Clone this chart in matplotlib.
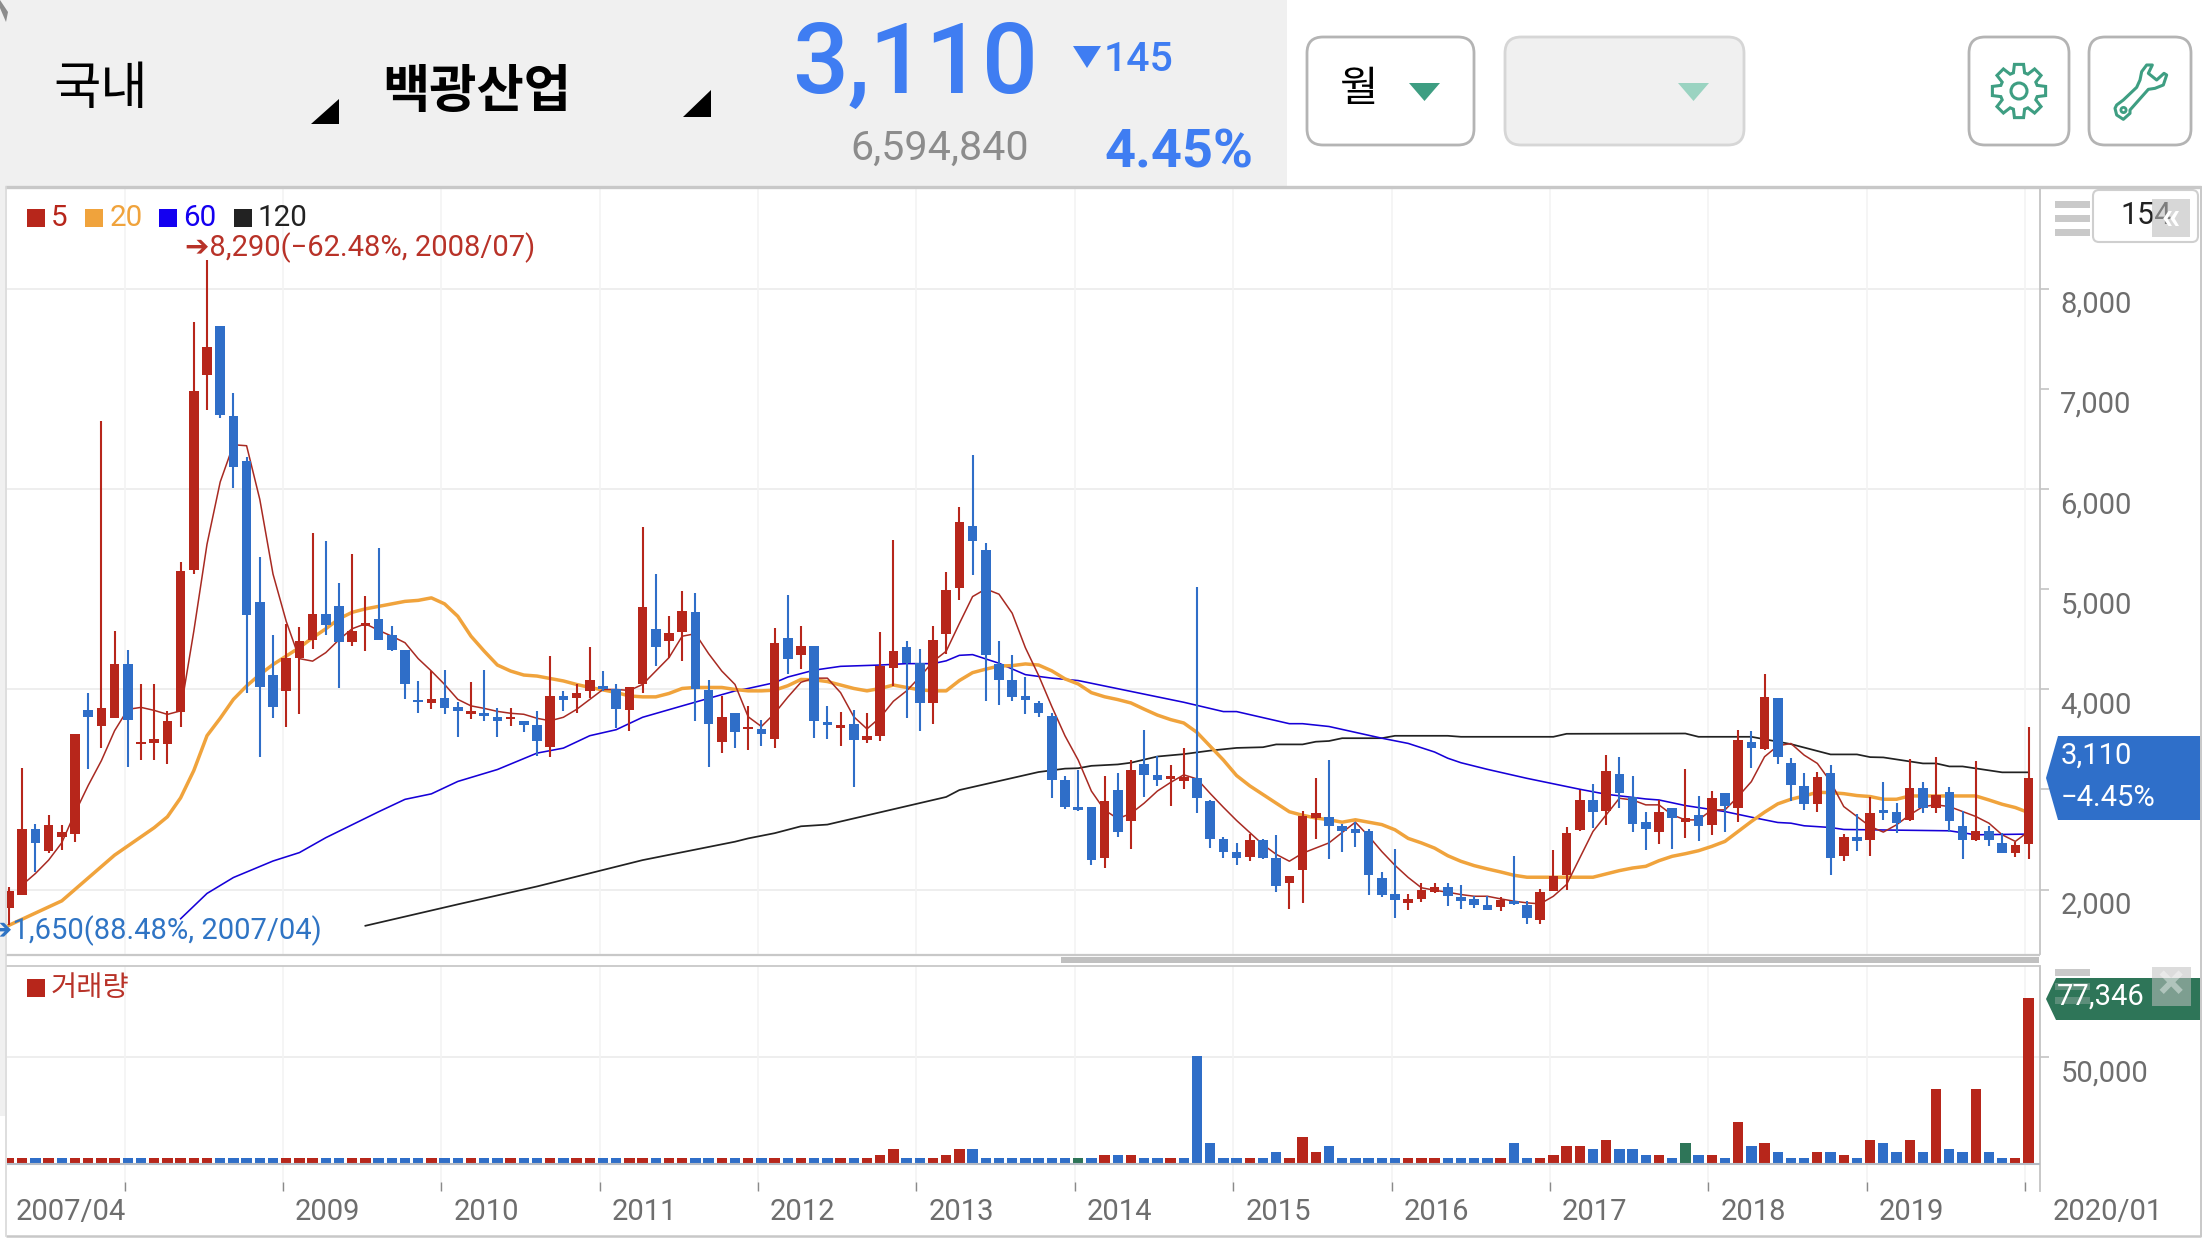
import matplotlib
matplotlib.use("Agg")
import matplotlib.pyplot as plt
from matplotlib.patches import FancyBboxPatch, Polygon, Rectangle, Circle
from matplotlib.transforms import ScaledTranslation
import numpy as np

plt.rcParams['font.family'] = ['Roboto', 'Noto Sans CJK KR', 'DejaVu Sans']

opens = [1812,1947,2603,2384,2528,2553,3795,3636,3711,4253,
3457,3467,3457,3771,5192,7145,7627,6728,6285,4869,
4143,3979,4317,4496,4750,4829,4476,4630,4705,4546,
4392,3890,3860,3910,3820,3750,3761,3721,3701,3686,
3641,3423,3930,3910,3979,4029,3999,3790,4049,4605,
4486,4571,4774,3989,3477,3767,
3605,3605,3501,4509,4344,4437,3674,3612,3653,3491,
3539,4212,4419,4268,3860,4554,5010,5631,5389,4250,
4098,3929,3867,3729,3094,2822,2825,2318,2994,2680,
3256,3146,3105,3084,3115,2880,2501,2377,2328,2494,
2311,2062,2193,2715,2725,2632,2604,2587,2111,1959,
1869,1904,1976,2021,1924,1910,1844,1824,1890,1847,
1698,1983,2143,2590,2895,2789,3154,2929,2677,2574,
2819,2673,2746,2643,2965,2819,3476,3406,3914,3267,
3038,2859,3167,2332,2521,2491,2796,2779,2690,3018,
2819,2975,2637,2491,2587,2464,2361,2454]
closes = [1981,2603,2464,2642,2578,3552,3726,3815,4253,3696,
3477,3502,3686,5182,6981,7423,6738,6226,4740,4019,
3820,4312,4481,4750,4645,4476,4586,4665,4496,4397,
4049,3870,3900,3810,3780,3780,3731,3686,3726,3646,
3482,3935,3890,3959,4089,3999,3800,4019,4819,4427,
4566,4779,3999,3656,3721,3572,
3622,3550,4468,4302,4437,3681,3640,3643,3491,3536,
4233,4385,4261,3860,4495,4989,5672,5486,4340,4098,
3922,3891,3760,3091,2829,2794,2294,2884,2570,3198,
3149,3098,3132,3122,2918,2508,2380,2318,2490,2318,
2035,2131,2735,2766,2639,2580,2566,2145,1948,1897,
1904,2000,2021,1931,1890,1844,1797,1897,1857,1718,
1973,2139,2567,2895,2773,3184,2968,2657,2604,2776,
2713,2713,2637,2915,2839,3496,3416,3924,3320,3041,
2859,3128,2312,2521,2481,2766,2763,2660,3018,2819,
2942,2683,2491,2587,2491,2365,2448,3110]
highs = [2021,3214,2657,2742,2642,3552,3959,6683,4581,4392,
4049,4049,3785,5276,7672,8290,7627,6956,6320,5326,
4541,4655,4620,5565,5485,5063,5351,4929,5411,4630,
4392,4084,4183,4198,3875,4074,4193,3810,3810,3686,
3780,4332,3984,4049,4422,4183,4049,4019,5624,5152,
4730,4978,4963,4094,3934,3761,
3836,3691,4616,4941,4630,4437,3836,3774,3795,3767,
4575,5493,4485,4399,4637,5172,5821,6342,5458,4485,
4347,4123,3885,3760,3139,3191,2825,3132,3167,3294,
3595,3336,3243,3415,5020,2898,2525,2466,2552,2501,
2542,2131,2784,3115,3294,2656,2673,2604,2173,2404,
1959,2069,2069,2069,2043,1933,1933,1923,2332,1890,
2006,2391,2623,2995,3055,3343,3327,3138,2779,2895,
2819,3207,2935,2988,2965,3592,3585,4153,3914,3317,
3167,3177,3244,2557,2756,2922,3078,2869,3307,3078,
3327,3028,2789,3284,2630,2564,2474,3625]
lows = [1650,1947,2180,2369,2394,2478,3204,3413,3711,3229,
3298,3298,3254,3621,5152,6792,6708,6007,3959,3328,
3711,3626,3750,4407,4546,4009,4436,4387,4496,4382,
3905,3761,3800,3751,3522,3701,3686,3522,3636,3572,
3338,3323,3786,3761,3910,3984,3611,3587,3959,4233,
4317,4283,3686,3229,3363,3413,
3398,3436,3415,4157,4202,3512,3502,3439,3029,3460,
3481,4036,3712,3581,3650,4354,4892,5141,3881,3847,
3881,3750,3726,2915,2801,2787,2249,2218,2528,2404,
2925,3036,2835,3001,2766,2414,2318,2249,2283,2304,
1976,1804,1862,2508,2304,2380,2425,1948,1924,1717,
1793,1873,1966,1838,1807,1817,1797,1784,1841,1658,
1658,1983,2000,2580,2613,2640,2813,2574,2391,2454,
2405,2514,2481,2540,2574,2673,3211,3393,3250,2885,
2793,2779,2146,2282,2381,2332,2690,2564,2680,2763,
2769,2574,2302,2481,2431,2365,2322,2302]

volumes = [2800,2800,2800,2800,2800,2800,2800,2800,2800,2800,
2800,2800,2800,2800,2800,2800,2800,2800,2800,2800,
2800,2800,2800,2800,2800,2800,2800,2800,2800,2800,
2800,2800,2800,2800,2800,2800,2800,2800,2800,2800,
2800,2800,2800,2800,2800,2800,2800,2800,2800,2800,
2800,2800,2800,2800,2800,2800,2800,2800,2800,2800,
2800,2800,2800,2800,2800,2800,4200,7000,2800,2800,
2800,4200,7000,7000,2800,2800,2800,2800,2800,2800,
2800,2800,2800,4200,4200,4200,2800,2800,2800,2800,
50300,9800,2800,2800,2800,2800,5600,2800,12600,5600,
8400,2800,2800,2800,2800,2800,2800,2800,2800,2800,
2800,2800,2800,2800,9800,2800,2800,4200,8400,8400,
7000,11200,7000,7000,4200,4200,2800,9800,4200,4200,
2800,19600,8400,9800,5600,2800,2800,5600,5600,4200,
2800,11200,9800,5600,11200,5600,35000,7000,5600,35000,
5600,2800,2800,77346]
volume_kinds = ("rrbrbrrrrb" "brrrrrbbbb" "brrrbbrrbb" "bbrbbrbbrb" "brbrrbbrrb"
                "rrbbrbrbrb" "rbbrbrrrbb" "rrrbbbbbbb" "bgbrbrbbrb" "bbbbrbbrrr"
                "bbbbbbrrrb" "bbbrbbrrrr" "brbbbrbgbr" "brbrbbbrbr" "brbbrbrbbr" "bbrr")

ma5_idx = list(range(1, 154))
ma5 = [2046,2160,2294,2468,2767,3040,3288,3587,3800,3820,
3790,3750,3785,4581,5450,6072,6444,6434,5898,5152,
4680,4307,4282,4367,4496,4606,4655,4590,4531,4466,
4307,4183,4049,3900,3835,3810,3780,3761,3751,3711,
3686,3721,3800,3900,3999,3999,3989,4049,4183,4317,
4531,4556,4357,4183,4049,
3726,3629,3760,3922,4071,4112,4112,3967,3726,3605,3719,3881,3985,4123,4278,4381,
4658,4927,5003,4951,4761,4416,4140,3829,3536,3294,2984,2794,2708,2760,2863,2984,
3070,3146,3105,2960,2822,2690,2570,2449,2352,2283,2363,2414,2466,2570,2673,2535,
2380,2242,2121,2018,1993,1973,
1950,1933,1933,1907,1884,1867,1857,1933,2050,2315,2580,2746,2912,2895,2846,2846,
2746,2696,2696,2796,2796,2929,3078,3327,3436,3459,3343,3260,3078,2829,2730,2630,
2574,2647,2746,2829,2846,2829,2779,2730,2663,2547,2481,2580]

ma20_idx = [0, 4, 8, 11] + list(range(12, 154))
ma20 = [1643,1887,2344,2618,
2727,2916,3189,3537,3711,3900,4034,4148,4248,4332,4417,4516,4605,4705,4770,4804,
4829,4854,4879,4889,4914,4854,4730,4531,4382,4243,4183,4143,4133,4108,4084,4049,
4019,3994,3969,3934,3925,3925,3959,4009,4019,4019,4019,3999,
3985,3985,3992,4036,4099,4095,4078,4043,4009,3985,4009,4043,4019,3995,3985,3985,
4088,4167,4202,4233,4237,4254,4243,4185,4105,4054,3967,3926,3898,3864,3802,3743,
3698,3664,3570,3432,3294,3139,3036,2949,2863,2777,2742,2715,2697,2673,2697,2673,
2649,2597,2511,2466,2414,2338,
2282,2239,2206,2176,2143,2123,2123,2123,2123,2123,2123,2156,2189,2215,2232,2288,
2332,2358,2388,2431,2481,2580,2680,2773,2856,2902,2935,2972,2968,2958,2939,2929,
2902,2902,2935,2935,2935,2935,2935,2935,2895,2852,2819,2769]

ma60_idx = [13,15,17,20,22,24,28,30,32,34,37,40,42,44,46,48,51,53,55,
56,58,59,61,63,66,68,70,71,72,73,75,77,79,81,89,92,93,97,98,100,104,106,108,109,
110,112,115,119,121,124,125,127,130,132,134,135,136,138,139,147,149,153]
ma60 = [1708,1961,2120,2285,2369,2518,2777,2901,2956,3080,3199,3363,3413,3537,3597,3721,3835,3910,3984,
4009,4067,4123,4192,4230,4243,4257,4257,4285,4340,4347,4261,4147,4112,4088,3871,3778,3778,3657,3657,3629,3512,3460,3374,3312,
3267,3201,3111,3002,2952,2905,2895,2839,2779,2723,2670,2663,2637,2620,2600,2587,2547,2554]

ma120_idx = [27,34,40,48,55,56,58,60,62,71,72,78,80,81,82,84,85,87,89,91,93,95,96,98,99,100,101,104,105,109,
110,117,118,127,128,132,135,138,140,141,142,145,146,147,148,151,153]
ma120 = [1638,1852,2031,2294,2478,2511,2563,2632,2649,2925,2994,3174,3208,3212,3236,3250,3267,3329,3353,3388,3415,3422,3450,3450,3477,3484,3512,3512,3536,3536,
3526,3526,3556,3559,3526,3526,3453,3350,3350,3323,3320,3260,3260,3230,3230,3171,3171]

price_ticks = [2000, 3000, 4000, 5000, 6000, 7000, 8000]
price_grid = [2000, 4000, 6000, 8000]
year_idx = [9, 21, 33, 45, 57, 69, 81, 93, 105, 117, 129, 141, 153]
year_labels = ['2007/04', '2009', '2010', '2011', '2012', '2013', '2014',
               '2015', '2016', '2017', '2018', '2019', '2020/01']
label_shift_px = [1, 12, 12, 12, 12, 12, 12, 12, 12, 12, 12, 12, 27]
label_align = ['right'] + ['left'] * 12

RED, BLUE, GREEN = '#B7261B', '#2F6EC8', '#2E7558'
ORANGE, MBLUE, BLACK = '#F0A33C', '#1600D8', '#222222'
GRID, VGRID, AXISC, TEXTC = '#EDEDED', '#F3F3F3', '#C4C4C4', '#6E6E6E'
RED_TXT = '#B83228'
TEAL = '#3E9E82'
W, H = 2208, 1242
FS = 21

fig = plt.figure(figsize=(W/100, H/100), dpi=100, facecolor='white')


def axes_px(l, t, r, b, **kw):
    return fig.add_axes([l/W, 1-b/H, (r-l)/W, (b-t)/H], **kw)


L, R = 6.5, 2039.5
XLIM = (-0.19, 153.83)
x = np.arange(len(opens))
o, c, hi, lo = map(np.array, (opens, closes, highs, lows))
up = c >= o

# ---------- price panel
ax = axes_px(L, 188, R, 954)
ax.set_xlim(*XLIM)
ax.set_ylim(1356, 9009)
ax.plot(ma120_idx, ma120, color=BLACK, lw=1.25, zorder=2)
ax.plot(ma60_idx, ma60, color=MBLUE, lw=1.15, zorder=2.1)
ax.plot(ma20_idx, ma20, color=ORANGE, lw=2.5, zorder=2.2)
ax.plot(ma5_idx, ma5, color='#A82A22', lw=1.1, zorder=2.3)
cols = np.where(up, RED, BLUE)
ax.vlines(x, lo, hi, colors=cols, lw=1.5, zorder=3)
ax.bar(x, np.maximum(np.abs(c-o), 20), bottom=np.minimum(o, c), width=0.72, color=cols, zorder=3.1)
for v in price_grid:
    ax.axhline(v, color=GRID, lw=1.3, zorder=0)
ax.set_yticks(price_ticks)
ax.set_yticklabels([f'{v:,}' for v in price_ticks])
ax.yaxis.tick_right()
ax.tick_params(axis='y', length=6.5, width=1.2, color=AXISC, labelcolor=TEXTC, labelsize=FS, pad=8.5)
for lab in ax.get_yticklabels():
    lab.set_transform(lab.get_transform() + ScaledTranslation(0, -13/100, fig.dpi_scale_trans))
ax.set_xticks([i-0.25 for i in year_idx])
ax.set_xticklabels([])
ax.tick_params(axis='x', length=0)
ax.grid(True, axis='x', color=VGRID, lw=1.2, zorder=0)
ax.set_axisbelow(True)
for s in ('top', 'left', 'bottom'):
    ax.spines[s].set_visible(False)
ax.spines['right'].set_color(AXISC)
ax.spines['right'].set_linewidth(1.3)

# ---------- volume panel
vx = axes_px(L, 966, R, 1191)
vx.set_xlim(*XLIM)
vx.set_ylim(-12303, 92154)
kind_col = {'r': RED, 'b': BLUE, 'g': GREEN}
vx.bar(x, volumes, width=0.78, color=[kind_col[k] for k in volume_kinds], zorder=3)
vx.axhline(0, color='#B4BAC4', lw=1.5, zorder=4)
vx.axhline(50000, color=GRID, lw=1.3, zorder=0)
vx.set_yticks([50000])
vx.set_yticklabels(['50,000'])
vx.yaxis.tick_right()
vx.tick_params(axis='y', length=6.5, width=1.2, color=AXISC, labelcolor=TEXTC, labelsize=FS, pad=8.5)
for lab in vx.get_yticklabels():
    lab.set_transform(lab.get_transform() + ScaledTranslation(0, -14/100, fig.dpi_scale_trans))
vx.set_xticks([i-0.25 for i in year_idx])
vx.set_xticklabels(year_labels)
vx.tick_params(axis='x', direction='in', length=6.5, width=1.0, color='#8A8A8A', labelcolor=TEXTC,
                labelsize=FS, pad=5)
for lab, sh, al in zip(vx.get_xticklabels(), label_shift_px, label_align):
    lab.set_ha(al)
    lab.set_transform(lab.get_transform() + ScaledTranslation(sh/100, 0, fig.dpi_scale_trans))
vx.grid(True, axis='x', color=VGRID, lw=1.2, zorder=0)
vx.set_axisbelow(True)
for s in ('top', 'left', 'bottom'):
    vx.spines[s].set_visible(False)
vx.spines['right'].set_color(AXISC)
vx.spines['right'].set_linewidth(1.3)

# ---------- page furniture, in screen pixels
ui = fig.add_axes([0, 0, 1, 1], zorder=10)
ui.set_xlim(0, W)
ui.set_ylim(H, 0)
ui.axis('off')
ui.patch.set_alpha(0)


def rect(x0, y0, x1, y1, **kw):
    ui.add_patch(Rectangle((x0, y0), x1-x0, y1-y0, **kw))


def hline(y, x0, x1, color='#C8C8C8', lw=1.5):
    ui.plot([x0, x1], [y, y], color=color, lw=lw, solid_capstyle='butt')


rect(0, 0, 1287, 186, fc='#F0F0F0', ec='none')
rect(0, 186, 5, 1116, fc='#F0F0F0', ec='none')
ui.add_patch(Polygon([(0, 0), (8, 12), (6, 22), (0, 8)], fc='#8C8C8C', ec='none'))
hline(187, 5, 2201, lw=2.4)
hline(955, 6, 2040, lw=1.6)
hline(966, 6, 2040, lw=1.3)
hline(1236, 6, 2201, lw=1.8)
ui.plot([6, 6], [187, 1236], color='#D8D8D8', lw=1.2)
ui.plot([2200.5, 2200.5], [187, 1236], color='#C8C8C8', lw=1.4)
rect(1061, 957, 2039, 963, fc='#C0C0C0', ec='none')

ui.text(101, 89, '국내', fontsize=37, color='black', ha='center', va='center',
        family='Noto Sans CJK KR', fontweight='medium')
ui.text(477, 92, '백광산업', fontsize=37, color='black', ha='center', va='center',
        family='Noto Sans CJK KR', fontweight='bold')
ui.add_patch(Polygon([(311, 124), (339, 124), (339, 99)], fc='black', ec='none'))
ui.add_patch(Polygon([(683, 117), (711, 117), (711, 90)], fc='black', ec='none'))
NUMB = '#3F7DF2'
ui.text(792, 66, '3,110', fontsize=71, color=NUMB, ha='left', va='center', fontweight='medium')
ui.add_patch(Polygon([(1073, 46), (1101, 46), (1087, 68)], fc=NUMB, ec='none'))
ui.text(1104, 60, '145', fontsize=29.5, color=NUMB, ha='left', va='center', fontweight='medium')
ui.text(850, 148, '6,594,840', fontsize=29.7, color='#8C8C8C', ha='left', va='center')
ui.text(1104, 153, '4.45%', fontsize=39, color=NUMB, ha='left', va='center', fontweight='bold')


def button(x0, x1, fc='white', ec='#B4B4B4'):
    ui.add_patch(FancyBboxPatch((x0+16, 37+16), x1-x0-32, 108-32, boxstyle='round,pad=16',
                                fc=fc, ec=ec, lw=2.0))


button(1307, 1474)
button(1505, 1744, fc='#F0F0F0', ec='#D6D6D6')
button(1969, 2069)
button(2089, 2191)
ui.text(1359, 89, '월', fontsize=30, color='black', ha='center', va='center',
        family='Noto Sans CJK KR', fontweight='medium')
ui.add_patch(Polygon([(1409, 83), (1440, 83), (1424.5, 101)], fc='#3E9E82', ec='none'))
ui.add_patch(Polygon([(1678, 83), (1709, 83), (1693.5, 101)], fc='#9AD3C1', ec='none'))

# gear icon
cx, cy = 2019, 91
ang = np.linspace(0, 2*np.pi, 8, endpoint=False)
pts = []
for a in ang:
    for da, rr in ((-0.30, 19), (-0.17, 27), (0.17, 27), (0.30, 19)):
        pts.append((cx+rr*np.sin(a+da), cy-rr*np.cos(a+da)))
ui.add_patch(Polygon(pts, closed=True, fc='white', ec=TEAL, lw=2.2))
ui.add_patch(Circle((cx, cy), 8, fc='white', ec=TEAL, lw=2.2))

# wrench icon
wrench_zoom = [(470, 225), (490, 210), (530, 172), (540, 150), (545, 125), (560, 105), (577, 105),
               (565, 130), (590, 150), (612, 130), (620, 135), (610, 165), (585, 175), (565, 178),
               (510, 240), (510, 250), (490, 268), (470, 255), (465, 235)]
ui.add_patch(Polygon([(1960+a/3, 30+b/3) for a, b in wrench_zoom], closed=True, fc='white', ec=TEAL,
                     lw=2.2, joinstyle='round'))
ui.add_patch(Circle((2123.5, 110), 2.6, fc='white', ec=TEAL, lw=2.0))

# legend
ly = 219
for x0, col, x1, txt in ((27, RED, 51, '5'), (85, ORANGE, 110, '20'),
                         (159, '#1400F0', 183, '60'), (234, BLACK, 258, '120')):
    rect(x0, ly-10, x0+18, ly+8, fc=col, ec='none')
    ui.text(x1, ly-1, txt, fontsize=FS+0.3, color=col, ha='left', va='center')

ui.text(185, 248, '➔8,290(−62.48%, 2008/07)', fontsize=FS, color=RED_TXT, ha='left', va='center')
ui.text(-12, 931, '➔1,650(88.48%, 2007/04)', fontsize=FS, color='#2F74C4', ha='left', va='center',
        clip_on=False)

rect(27, 979, 45, 997, fc=RED, ec='none')
ui.text(51, 988, '거래량', fontsize=20.5, color=RED_TXT, ha='left', va='center', family='Noto Sans CJK KR')

# hamburger and count box
for y0 in (201, 215, 229):
    rect(2055, y0, 2090, y0+7, fc='#C9C9C9', ec='none')
ui.add_patch(FancyBboxPatch((2099, 196), 93, 40, boxstyle='round,pad=6', fc='white', ec='#CFCFCF', lw=1.5))
ui.text(2146, 216, '154', fontsize=22, color='#222222', ha='center', va='center')
rect(2152, 199, 2190, 237, fc='#BDBDBD', ec='none', alpha=0.6, zorder=5)
ui.text(2171, 217, '«', fontsize=27, color='white', ha='center', va='center', fontweight='bold', zorder=6)

# price tag
ui.add_patch(Polygon([(2046, 778), (2058, 736), (2200, 736), (2200, 820), (2058, 820)], fc='#2F6FC9', ec='none'))
ui.text(2061, 756, '3,110', fontsize=FS, color='white', ha='left', va='center')
ui.text(2061, 798, '−4.45%', fontsize=FS, color='white', ha='left', va='center')

# volume tag
ui.add_patch(Polygon([(2046, 999), (2056, 978), (2200, 978), (2200, 1020), (2056, 1020)], fc=GREEN, ec='none'))
rect(2055, 969, 2090, 976, fc='#C9C9C9', ec='none')
rect(2055, 983, 2090, 990, fc='#C9C9C9', ec='none', alpha=0.3)
rect(2055, 997, 2090, 1004, fc='#C9C9C9', ec='none', alpha=0.3)
ui.text(2057, 997, '77,346', fontsize=FS, color='white', ha='left', va='center')
rect(2152, 967, 2191, 1006, fc='#C0C0C0', ec='none', alpha=0.55)
ui.text(2171, 986, '×', fontsize=36, color='white', ha='center', va='center', fontweight='bold', alpha=0.4)

fig.savefig('out.png', dpi=100, facecolor='white')
